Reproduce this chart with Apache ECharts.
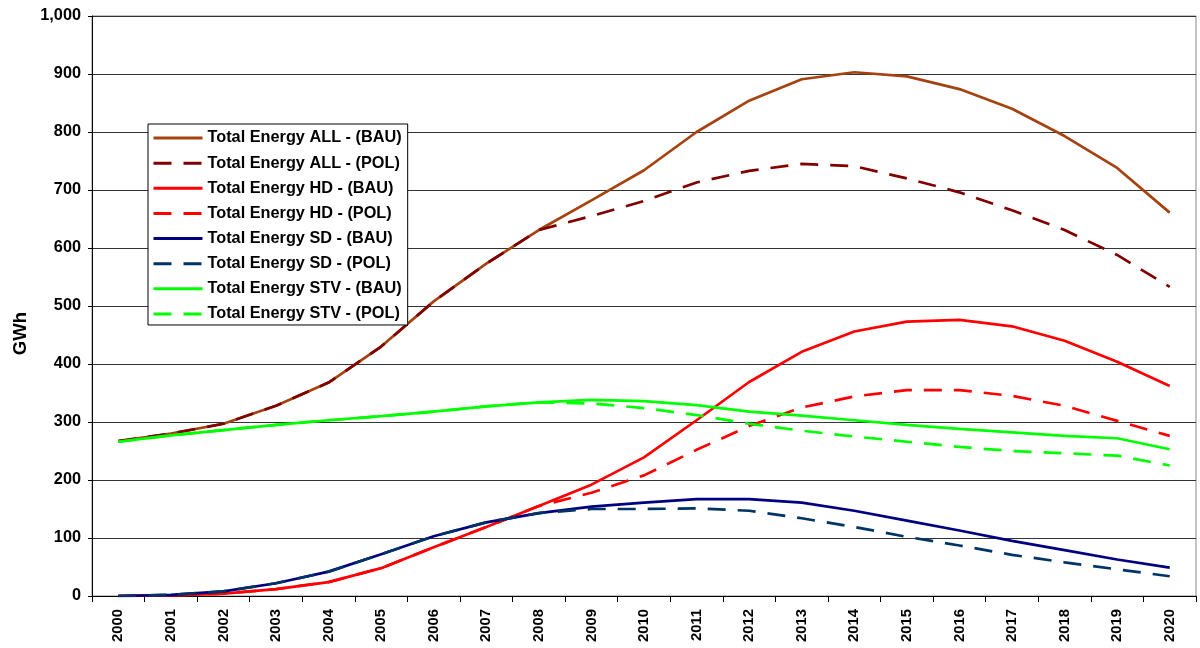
<!DOCTYPE html>
<html>
<head>
<meta charset="utf-8">
<script src="https://cdn.jsdelivr.net/npm/echarts@6/dist/echarts.min.js"></script>
<style>
  html, body { margin: 0; padding: 0; background: #fff; }
  #chart { width: 1200px; height: 648px; }
</style>
</head>
<body>
<div id="chart"></div>
<script>
// Years on the horizontal axis
const years = ['2000','2001','2002','2003','2004','2005','2006','2007','2008','2009','2010',
               '2011','2012','2013','2014','2015','2016','2017','2018','2019','2020'];

// Energy totals in GWh, business-as-usual (BAU) and policy (POL) scenarios
const allBau = [267, 280, 297, 328, 368, 430, 508, 573, 631, 682, 734, 800, 854, 891, 903, 896, 874, 840, 793, 738, 661];
const allPol = [267, 280, 297, 328, 368, 430, 508, 573, 631, 655, 681, 713, 733, 745, 741, 720, 696, 665, 631, 588, 533];
const hdBau  = [0, 1, 4, 12, 24, 48, 84, 119, 155, 192, 239, 303, 369, 421, 456, 473, 476, 465, 440, 404, 362];
const hdPol  = [0, 1, 4, 12, 24, 48, 84, 119, 155, 178, 208, 252, 293, 325, 344, 355, 355, 345, 328, 302, 276];
const sdBau  = [0, 2, 8, 22, 42, 72, 103, 127, 143, 154, 161, 167, 167, 161, 147, 130, 113, 95, 79, 63, 49];
const sdPol  = [0, 2, 8, 22, 42, 72, 103, 127, 143, 150, 150, 151, 147, 134, 119, 102, 87, 71, 58, 46, 34];
const stvBau = [266, 277, 286, 295, 303, 310, 318, 327, 334, 338, 336, 329, 318, 311, 303, 295, 288, 282, 276, 272, 253];
const stvPol = [266, 277, 286, 295, 303, 310, 318, 327, 334, 332, 324, 312, 297, 285, 275, 266, 257, 250, 246, 242, 225];

const FONT = '"Liberation Sans", Arial, sans-serif';
const DASH = [18, 12];

function line(name, data, color, dashed) {
  return {
    name: name,
    type: 'line',
    data: data,
    symbol: 'none',
    smooth: false,
    lineStyle: { color: color, width: 2.7, type: dashed ? DASH : 'solid' },
    itemStyle: { color: color },
    emphasis: { disabled: true }
  };
}

const chart = echarts.init(document.getElementById('chart'), null, { renderer: 'canvas' });
chart.setOption({
  animation: false,
  backgroundColor: '#ffffff',
  grid: { left: 92, top: 16, right: 4, bottom: 52, containLabel: false,
          show: true, borderColor: '#888', borderWidth: 1 },
  legend: {
    orient: 'vertical',
    left: 148,
    top: 124,
    padding: [6, 6, 3, 4],
    itemWidth: 49,
    itemHeight: 16,
    itemGap: 9.14,
    backgroundColor: '#fff',
    borderColor: '#000',
    borderWidth: 1,
    itemStyle: { opacity: 0 },
    lineStyle: { width: 3 },
    textStyle: { fontFamily: FONT, fontWeight: 'bold', fontSize: 16.3, color: '#000' }
  },
  graphic: [{
    type: 'text',
    left: 11,
    top: 312,
    rotation: Math.PI / 2,
    style: { text: 'GWh', fontFamily: FONT, fontWeight: 'bold', fontSize: 18.5, fill: '#000' }
  }],
  xAxis: {
    type: 'category',
    data: years,
    boundaryGap: true,
    axisLine: { lineStyle: { color: '#000', width: 1 } },
    axisTick: { show: true, length: 6, lineStyle: { color: '#000' } },
    axisLabel: { rotate: 90, margin: 13, fontFamily: FONT, fontWeight: 'bold', fontSize: 14.8, color: '#000' },
    splitLine: { show: false }
  },
  yAxis: {
    type: 'value',
    min: 0,
    max: 1000,
    interval: 100,
    axisLine: { show: true, lineStyle: { color: '#000', width: 1 } },
    axisTick: { show: true, length: 4, lineStyle: { color: '#000' } },
    axisLabel: {
      margin: 11, fontFamily: FONT, fontWeight: 'bold', fontSize: 16.3, color: '#000',
      formatter: v => v.toLocaleString('en-US')
    },
    splitLine: { show: true, lineStyle: { color: '#333', width: 1 } }
  },
  series: [
    line('Total Energy ALL - (BAU)', allBau, '#A5420F', false),
    line('Total Energy ALL - (POL)', allPol, '#800000', true),
    line('Total Energy HD - (BAU)', hdBau, '#FF0000', false),
    line('Total Energy HD - (POL)', hdPol, '#FF0000', true),
    line('Total Energy SD - (BAU)', sdBau, '#000080', false),
    line('Total Energy SD - (POL)', sdPol, '#003366', true),
    line('Total Energy STV - (BAU)', stvBau, '#00FF00', false),
    line('Total Energy STV - (POL)', stvPol, '#00FF00', true)
  ]
});
</script>
</body>
</html>
